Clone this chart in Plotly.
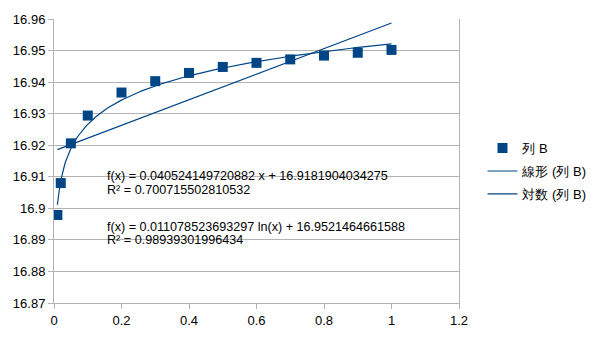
import numpy as np
import plotly.graph_objects as go

# Measured series (列 B)
x_vals = [0.01, 0.02, 0.05, 0.1, 0.2, 0.3, 0.4, 0.5, 0.6, 0.7, 0.8, 0.9, 1.0]
y_vals = [16.8979, 16.9080, 16.9206, 16.9294, 16.9367, 16.9403, 16.9429,
          16.9448, 16.9461, 16.9472, 16.9484, 16.9493, 16.9502]

# Trendline coefficients
lin_slope = 0.040524149720882
lin_icpt = 16.9181904034275
lin_r2 = 0.700715502810532
log_coef = 0.011078523693297
log_icpt = 16.9521464661588
log_r2 = 0.98939301996434

y_ticks = [16.87, 16.88, 16.89, 16.9, 16.91, 16.92, 16.93, 16.94, 16.95, 16.96]
y_tick_text = ["16.87", "16.88", "16.89", "16.9", "16.91", "16.92", "16.93",
               "16.94", "16.95", "16.96"]
x_ticks = [0, 0.2, 0.4, 0.6, 0.8, 1, 1.2]
x_tick_text = ["0", "0.2", "0.4", "0.6", "0.8", "1", "1.2"]

col = "#004586"
font = "Liberation Sans, Arial, sans-serif"

x_lin = np.array([min(x_vals), max(x_vals)])
y_lin = lin_slope * x_lin + lin_icpt
x_log = np.linspace(min(x_vals), max(x_vals), 400)
y_log = log_coef * np.log(x_log) + log_icpt

fig = go.Figure()
fig.add_trace(go.Scatter(x=x_vals, y=y_vals, mode="markers", name="列 B",
                         legendgroup="a",
                         marker=dict(symbol="square", size=10, color=col,
                                     line=dict(width=0))))
fig.add_trace(go.Scatter(x=x_lin, y=y_lin, mode="lines", name="線形 (列 B)",
                         legendgroup="b",
                         line=dict(color=col, width=1.2)))
fig.add_trace(go.Scatter(x=x_log, y=y_log, mode="lines", name="対数 (列 B)",
                         legendgroup="c",
                         line=dict(color=col, width=1.2)))

ann_font = dict(family=font, size=12.6, color="#000000")
eqs = [
    (16.9102, f"f(x) = {lin_slope} x + {lin_icpt}"),
    (16.9057, f"R² = {lin_r2}"),
    (16.8942, f"f(x) = {log_coef} ln(x) + {log_icpt}"),
    (16.8899, f"R² = {log_r2}"),
]
for yy, txt in eqs:
    fig.add_annotation(x=0.155, y=yy, xref="x", yref="y", text=txt,
                       showarrow=False, xanchor="left", yanchor="middle",
                       font=ann_font, borderpad=0)

fig.update_layout(
    width=605, height=340,
    margin=dict(l=54, r=143, t=15, b=31),
    paper_bgcolor="white", plot_bgcolor="white",
    font=dict(family=font, size=13, color="#000000"),
    showlegend=True,
    legend=dict(x=1.058, y=0.598, xanchor="left", yanchor="top",
                font=dict(family=font, size=13, color="#000000"),
                bgcolor="rgba(0,0,0,0)", tracegroupgap=3),
    xaxis=dict(range=[0, 1.2], tickvals=x_ticks, ticktext=x_tick_text,
               showgrid=False, zeroline=False, showline=True,
               linecolor="#b3b3b3", linewidth=1, ticks="outside",
               ticklen=5, tickcolor="#b3b3b3"),
    yaxis=dict(range=[16.87, 16.96], tickvals=y_ticks, ticktext=y_tick_text,
               showgrid=True, gridcolor="#b3b3b3", gridwidth=1,
               zeroline=False, showline=True, mirror=True,
               linecolor="#b3b3b3", linewidth=1, ticks="outside",
               ticklen=5, tickcolor="#b3b3b3"),
)

fig.write_html("out.html")
